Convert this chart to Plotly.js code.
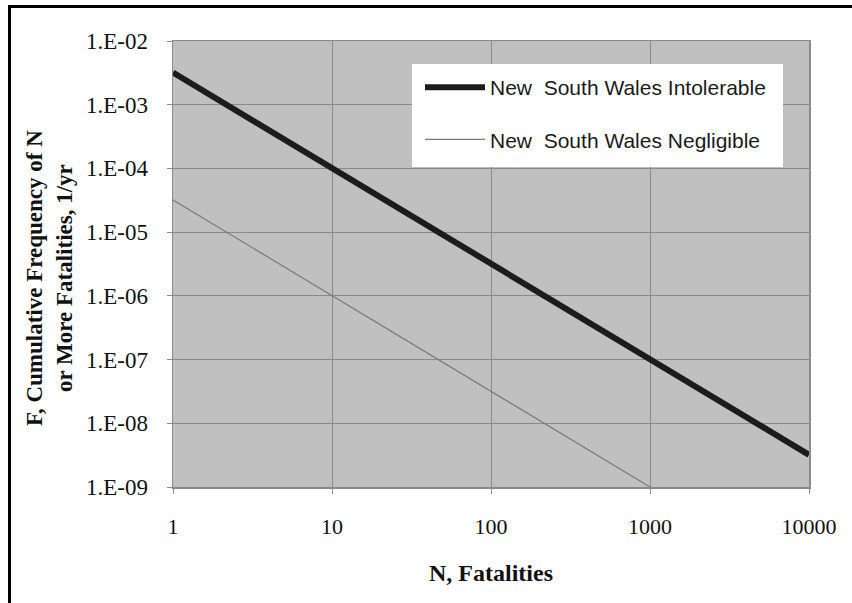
<!DOCTYPE html>
<html>
<head>
<meta charset="utf-8">
<script src="https://cdn.plot.ly/plotly-3.0.1.min.js"></script>
<style>
  html, body { margin: 0; padding: 0; background: #ffffff; }
  #chart { width: 852px; height: 603px; }
</style>
</head>
<body>
<div id="chart"></div>
<script>
// ---- data ----
const fatalities = [1, 10, 100, 1000, 10000];
const intolerable = [3.2e-3, 1.0e-4, 3.2e-6, 1.0e-7, 3.2e-9];
const negligibleN = [1, 10, 100, 1000];
const negligible = [3.2e-5, 1.0e-6, 3.2e-8, 1.0e-9];

const xTickVals = [1, 10, 100, 1000, 10000];
const xTickText = ["1", "10", "100", "1000", "10000"];
const yTickVals = [1e-2, 1e-3, 1e-4, 1e-5, 1e-6, 1e-7, 1e-8, 1e-9];
const yTickText = ["1.E-02", "1.E-03", "1.E-04", "1.E-05", "1.E-06", "1.E-07", "1.E-08", "1.E-09"];

const seriesNames = ["New\u00a0 South Wales Intolerable", "New\u00a0 South Wales Negligible"];
const xTitle = "N, Fatalities";
const yTitle = "F, Cumulative Frequency of N<br>or More Fatalities, 1/yr";

// ---- layout helpers (pixel -> paper) ----
const W = 852, H = 603;
const M = { l: 173, r: 43, t: 41, b: 116 };
const PW = W - M.l - M.r, PH = H - M.t - M.b;
const px = x => (x - M.l) / PW;
const py = y => (H - M.b - y) / PH;

const traces = [
  {
    x: fatalities, y: intolerable, name: seriesNames[0],
    mode: "lines", type: "scatter", legendgroup: "a",
    line: { color: "#1c1c1c", width: 6 }
  },
  {
    x: negligibleN, y: negligible, name: seriesNames[1],
    mode: "lines", type: "scatter", legendgroup: "b",
    line: { color: "#7a7a7a", width: 1.2 }
  }
];

const serif = "'Liberation Serif', 'Times New Roman', serif";
const sans = "'Liberation Sans', Arial, sans-serif";

const layout = {
  width: W, height: H,
  margin: M,
  paper_bgcolor: "#ffffff",
  plot_bgcolor: "#c0c0c0",
  showlegend: true,
  legend: {
    x: px(420), y: py(67), xanchor: "left", yanchor: "top",
    bgcolor: "rgba(0,0,0,0)", borderwidth: 0,
    font: { family: sans, size: 21, color: "#1a1a1a" },
    tracegroupgap: 22, itemwidth: 60
  },
  xaxis: {
    type: "log", range: [0, 4],
    tickvals: xTickVals, ticktext: xTickText,
    tickfont: { family: serif, size: 22, color: "#111" },
    ticks: "outside", ticklen: 5, tickcolor: "#8a8a8a",
    ticklabelstandoff: 14,
    showgrid: true, gridcolor: "#8a8a8a", gridwidth: 1,
    showline: true, linecolor: "#8a8a8a", linewidth: 1.5, mirror: true,
    zeroline: false
  },
  yaxis: {
    type: "log", range: [-9, -2],
    tickvals: yTickVals, ticktext: yTickText,
    tickfont: { family: serif, size: 23, color: "#111" },
    ticks: "outside", ticklen: 5, tickcolor: "#8a8a8a",
    ticklabelstandoff: 14,
    showgrid: true, gridcolor: "#8a8a8a", gridwidth: 1,
    showline: true, linecolor: "#8a8a8a", linewidth: 1.5, mirror: true,
    zeroline: false
  },
  annotations: [
    {
      text: xTitle, xref: "paper", yref: "paper",
      x: px(491), y: py(573), xanchor: "center", yanchor: "middle",
      showarrow: false,
      font: { family: serif, size: 24, color: "#111", weight: "bold" }
    },
    {
      text: yTitle, xref: "paper", yref: "paper",
      x: px(49), y: py(278), xanchor: "center", yanchor: "middle",
      textangle: -90, showarrow: false,
      font: { family: serif, size: 23, color: "#111", weight: "bold" }
    }
  ],
  shapes: [
    { type: "rect", xref: "paper", yref: "paper", layer: "above",
      x0: px(412), x1: px(783), y0: py(167), y1: py(64),
      fillcolor: "#ffffff", line: { width: 0 } },
    { type: "line", xref: "paper", yref: "paper",
      x0: px(9.5), x1: px(852), y0: py(6.5), y1: py(6.5),
      line: { color: "#000", width: 3 } },
    { type: "line", xref: "paper", yref: "paper",
      x0: px(9.5), x1: px(9.5), y0: py(5), y1: py(603),
      line: { color: "#000", width: 3 } }
  ]
};

Plotly.newPlot("chart", traces, layout, { displayModeBar: false, staticPlot: true });
</script>
</body>
</html>
